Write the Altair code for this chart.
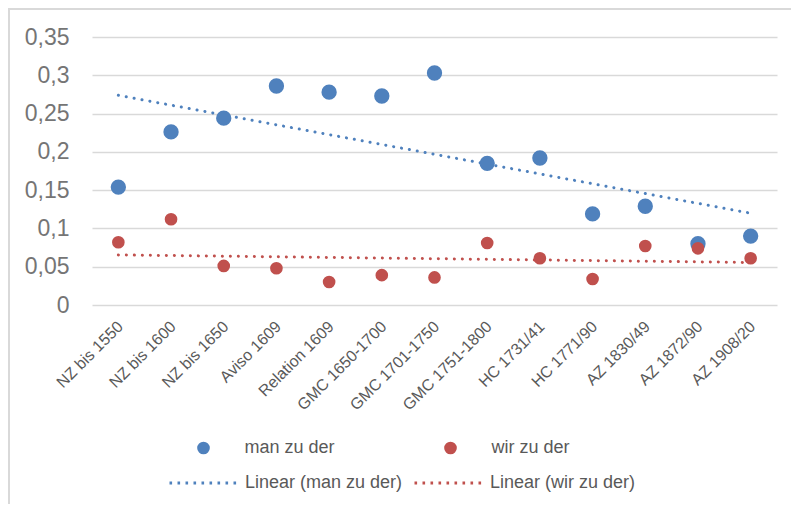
import json
import altair as alt
import pandas as pd

categories = ["NZ bis 1550", "NZ bis 1600", "NZ bis 1650", "Aviso 1609", "Relation 1609",
              "GMC 1650-1700", "GMC 1701-1750", "GMC 1751-1800", "HC 1731/41", "HC 1771/90",
              "AZ 1830/49", "AZ 1872/90", "AZ 1908/20"]
man_zu_der = [0.154, 0.226, 0.244, 0.286, 0.278, 0.273, 0.303, 0.185, 0.192, 0.119, 0.129, 0.080, 0.090]
wir_zu_der = [0.082, 0.112, 0.051, 0.048, 0.030, 0.039, 0.036, 0.081, 0.061, 0.034, 0.077, 0.074, 0.061]
series_names = ["man zu der", "wir zu der"]
trend_names = ["Linear (man zu der)", "Linear (wir zu der)"]
colors = ["#4F81BD", "#C0504D"]
y_ticks = [0, 0.05, 0.1, 0.15, 0.2, 0.25, 0.3, 0.35]

rows = []
for name, vals in zip(series_names, [man_zu_der, wir_zu_der]):
    for i, v in enumerate(vals):
        rows.append({"idx": i, "value": v, "series": name})
df = pd.DataFrame(rows)

W, H = 685, 268
PL, PT = 84, 29
TOTAL_W, TOTAL_H = 783, 496

label_arr = json.dumps(categories)

x_enc = alt.X("idx:Q", scale=alt.Scale(domain=[-0.5, len(categories) - 0.5], nice=False, zero=False),
              axis=alt.Axis(values=list(range(len(categories))), labelExpr=f"{label_arr}[datum.value]",
                            labelAngle=-45, labelFontSize=16, labelColor="#595959", labelPadding=13,
                            labelOffset=-4,
                            grid=False, domain=False, ticks=False, title=None, labelOverlap=False))
y_enc = alt.Y("value:Q", scale=alt.Scale(domain=[0, 0.35], nice=False),
              axis=alt.Axis(values=y_ticks, labelExpr="replace(format(datum.value, '.2~f'), '.', ',')",
                            labelFontSize=23, labelColor="#757575", labelPadding=23,
                            grid=True, gridColor="#d9d9d9", gridWidth=1.5,
                            domain=False, ticks=False, title=None))

base = alt.Chart(df)

trend = base.transform_regression("idx", "value", groupby=["series"]).transform_calculate(
    trend="'Linear (' + datum.series + ')'"
).mark_line(strokeDash=[0.1, 7.9], strokeCap="round", strokeWidth=3).encode(
    x=x_enc, y=y_enc,
    stroke=alt.Stroke("trend:N", scale=alt.Scale(domain=trend_names, range=colors),
                      legend=alt.Legend(title=None, orient="none", legendX=76, legendY=411,
                                        direction="horizontal", symbolType="stroke",
                                        symbolSize=4489, symbolStrokeWidth=3, symbolDash=[2.6, 5.4],
                                        labelFontSize=18, labelColor="#595959", labelOffset=7,
                                        columnPadding=5, padding=0)),
)

points = base.mark_circle(opacity=1).encode(
    x=x_enc, y=y_enc,
    color=alt.Color("series:N", scale=alt.Scale(domain=series_names, range=colors),
                    legend=alt.Legend(title=None, orient="none", legendX=102.5, legendY=402,
                                      direction="horizontal", symbolType="circle", symbolSize=160,
                                      symbolOpacity=1,
                                      labelFontSize=18, labelColor="#595959", labelOffset=32,
                                      columnPadding=106, padding=0)),
    size=alt.Size("series:N", scale=alt.Scale(domain=series_names, range=[235, 160]), legend=None),
)

frame_left = alt.Chart(alt.Data(values=[{}])).mark_rule(color="#d9d9d9", strokeWidth=2).encode(
    x=alt.value(-83), y=alt.value(-29), y2=alt.value(TOTAL_H - PT))
frame_top = alt.Chart(alt.Data(values=[{}])).mark_rule(color="#d9d9d9", strokeWidth=2).encode(
    x=alt.value(-84), x2=alt.value(TOTAL_W - PL), y=alt.value(-28))

chart = alt.layer(frame_left, frame_top, trend, points).resolve_scale(
    color="independent", stroke="independent"
).properties(
    width=W, height=H,
    autosize=alt.AutoSizeParams(type="none"),
    padding={"left": PL, "top": PT, "right": TOTAL_W - PL - W, "bottom": TOTAL_H - PT - H},
).configure(font="Liberation Sans").configure_view(stroke=None)

chart.save("out.html", embed_options={"renderer": "svg", "actions": False})
